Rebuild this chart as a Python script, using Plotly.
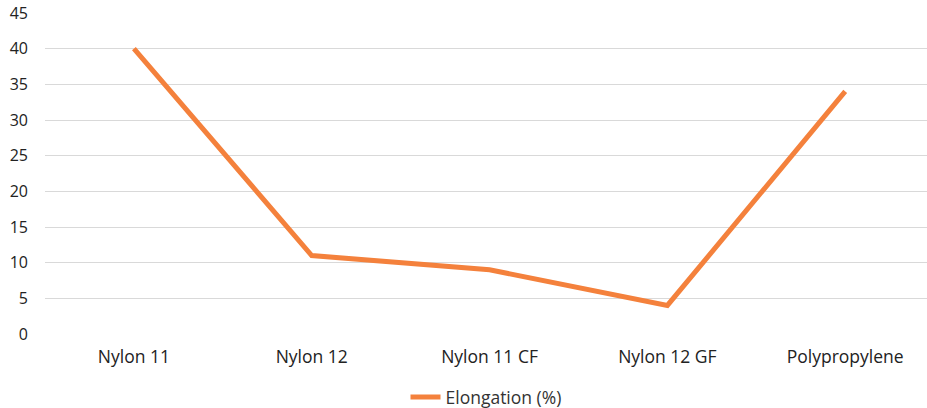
import plotly.graph_objects as go

materials = ["Nylon 11", "Nylon 12", "Nylon 11 CF", "Nylon 12 GF", "Polypropylene"]
elongation = [40, 11, 9, 4, 34]
y_ticks = [0, 5, 10, 15, 20, 25, 30, 35, 40, 45]

fig = go.Figure(
    go.Scatter(
        x=materials,
        y=elongation,
        mode="lines",
        name="Elongation (%)",
        line=dict(color="#F4813C", width=5),
    )
)

fig.update_layout(
    width=927,
    height=408,
    margin=dict(l=45, r=0, t=13, b=74, autoexpand=False),
    paper_bgcolor="white",
    plot_bgcolor="white",
    font=dict(family="Open Sans, Noto Sans, sans-serif", size=16, color="#222222"),
    showlegend=True,
    legend=dict(
        orientation="h",
        x=0.5,
        xanchor="center",
        y=-0.197,
        yanchor="middle",
        font=dict(size=17.5, color="#333333"),
    ),
    xaxis=dict(
        type="category",
        range=[-0.5, 4.46],
        automargin=False,
        showgrid=False,
        showline=False,
        zeroline=False,
        ticks="",
        ticklabelstandoff=10,
        tickfont=dict(size=17.5),
    ),
    yaxis=dict(
        range=[0, 45],
        tickvals=y_ticks,
        automargin=False,
        showgrid=True,
        gridcolor="#D9D9D9",
        gridwidth=1,
        zeroline=False,
        showline=False,
        ticks="",
        ticklabelstandoff=16,
        tickfont=dict(size=16),
    ),
)

fig.write_html("out.html")
